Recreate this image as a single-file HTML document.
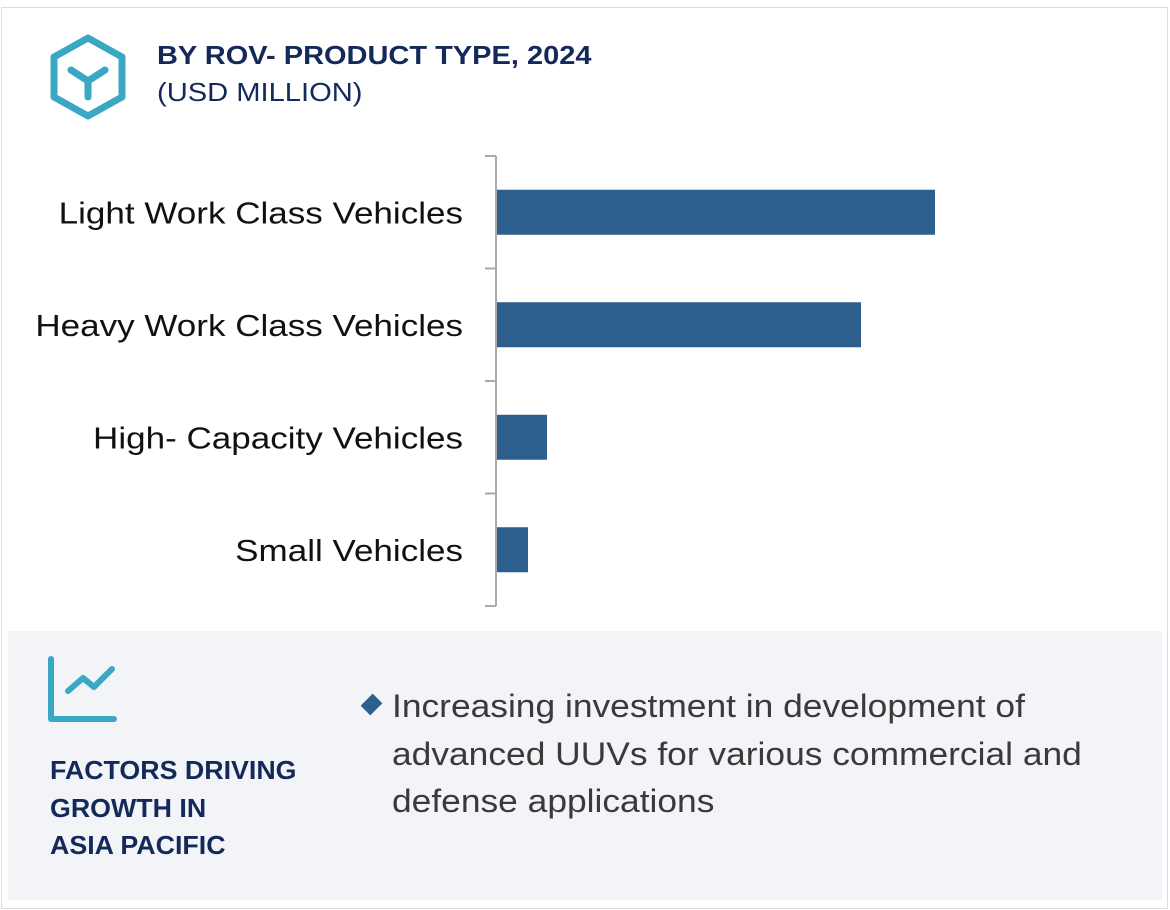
<!DOCTYPE html>
<html><head><meta charset="utf-8"><style>
body{margin:0;width:1170px;height:910px;background:#fff;font-family:"Liberation Sans",sans-serif;position:relative;overflow:hidden}
.abs{position:absolute;transform-origin:0 0;white-space:nowrap}
</style></head><body>
<div class="abs" style="left:1px;top:7px;width:1165px;height:900px;border:1px solid #dcdde3"></div>
<svg class="abs" style="left:48px;top:34px" width="80" height="88" viewBox="0 0 80 88">
<polygon points="40,4 74,23 74,63 40,82 6,63 6,23" fill="none" stroke="#3aa8c4" stroke-width="7" stroke-linejoin="round"/>
<path d="M23,36 L40,47 L57,36 M40,47 L40,63" fill="none" stroke="#3aa8c4" stroke-width="7" stroke-linecap="round"/>
</svg>
<div class="abs" style="left:157px;top:40px;font-size:26px;font-weight:bold;color:#13295a;transform:scaleX(1.115)">BY ROV- PRODUCT TYPE, 2024</div>
<div class="abs" style="left:157px;top:77px;font-size:26px;color:#13295a;transform:scaleX(1.12)">(USD MILLION)</div>
<svg id="chart" class="abs" style="left:0;top:0" width="1170" height="620"></svg>
<div class="abs" style="left:8px;top:631px;width:1154px;height:269px;background:#f3f4f8"></div>
<svg class="abs" style="left:46px;top:654px" width="74" height="72" viewBox="0 0 74 72">
<path d="M5,5 L5,65 L68,65" fill="none" stroke="#3aa8c4" stroke-width="6" stroke-linecap="round" stroke-linejoin="round"/>
<path d="M22,37 L37,24 L48,33 L66,15" fill="none" stroke="#3aa8c4" stroke-width="6" stroke-linecap="round" stroke-linejoin="round"/>
</svg>
<div class="abs" style="left:50px;top:752px;font-size:26px;font-weight:bold;color:#13295a;line-height:37.5px;transform:scaleX(1.03)">FACTORS DRIVING<br>GROWTH IN<br>ASIA PACIFIC</div>
<div class="abs" style="left:363px;top:696px;width:17px;height:17px;background:#2d5f8e;transform:rotate(45deg) scaleX(0.8);transform-origin:50% 50%"></div>
<div class="abs" style="left:392px;top:683px;font-size:32px;color:#3a3a3a;line-height:47.5px;transform:scaleX(1.105)">Increasing investment in development of<br>advanced UUVs for various commercial and<br>defense applications</div>
<script>
const categories=["Light Work Class Vehicles","Heavy Work Class Vehicles","High- Capacity Vehicles","Small Vehicles"];
const values=[439,365,51,32];
const svg=document.getElementById('chart');
const NS='http://www.w3.org/2000/svg';
const x0=496,pxPerUnit=1,top0=156,band=112.5;
const xScale=v=>x0+v*pxPerUnit;
const yScale=i=>top0+i*band;
function mk(t,a){const e=document.createElementNS(NS,t);for(const k in a)e.setAttribute(k,a[k]);svg.appendChild(e);return e;}
const ax=mk('line',{x1:x0,y1:top0,x2:x0,y2:yScale(categories.length),stroke:'#aaa','stroke-width':2});


for(let i=0;i<=categories.length;i++){
 const t=mk('line',{x1:x0-11,y1:yScale(i),x2:x0,y2:yScale(i),stroke:'#aaa','stroke-width':2});
 
 
}
categories.forEach((c,i)=>{
 const yc=yScale(i)+band/2;
 const r=mk('rect',{x:x0+1,y:yc-22.5,width:xScale(values[i])-x0-1,height:45,fill:'#2d5f8e'});
 
 
 const tx=mk('text',{x:463,y:yc+11,'text-anchor':'end','font-size':31,fill:'#111','font-family':'Liberation Sans, sans-serif'});
 tx.textContent=c;
 
 
 const w=tx.getComputedTextLength();
 tx.setAttribute('textLength',w*1.13);
 tx.setAttribute('lengthAdjust','spacingAndGlyphs');
});
</script>
</body></html>
